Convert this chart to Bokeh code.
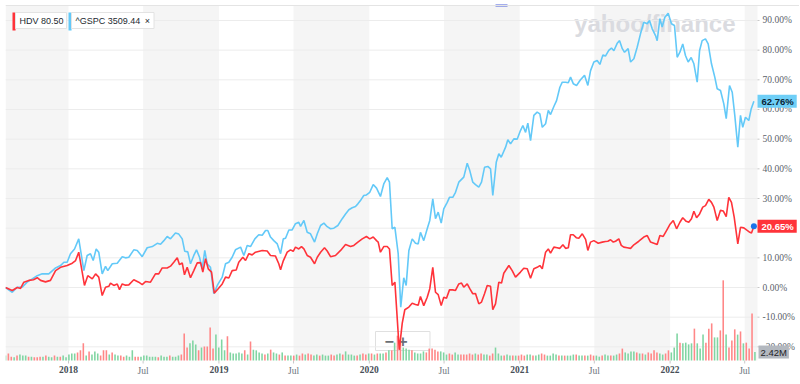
from bokeh.plotting import figure
from bokeh.models import (Range1d, BoxAnnotation, Label, LabelSet, ColumnDataSource, Span)
from bokeh.embed import file_html
from bokeh.resources import INLINE

# ---------------- data (decimal years, % change) ----------------
spx_t = [2017.581, 2017.626, 2017.659, 2017.692, 2017.725, 2017.759, 2017.792, 2017.825, 2017.869, 2017.914,
         2017.947, 2017.969, 2017.991, 2018.013, 2018.040, 2018.068, 2018.102, 2018.124, 2018.146, 2018.164,
         2018.184, 2018.201, 2018.224, 2018.246, 2018.261, 2018.291, 2018.324, 2018.357, 2018.379, 2018.401,
         2018.434, 2018.457, 2018.490, 2018.523, 2018.557, 2018.590, 2018.612, 2018.634, 2018.656, 2018.678,
         2018.711, 2018.733, 2018.756, 2018.773, 2018.793, 2018.811, 2018.833, 2018.851, 2018.871, 2018.889,
         2018.906, 2018.922, 2018.944, 2018.966, 2018.989, 2019.022, 2019.044, 2019.066, 2019.088, 2019.110,
         2019.144, 2019.166, 2019.188, 2019.210, 2019.239, 2019.265, 2019.288, 2019.310, 2019.325, 2019.343,
         2019.365, 2019.388, 2019.410, 2019.428, 2019.443, 2019.465, 2019.487, 2019.509, 2019.531, 2019.543,
         2019.565, 2019.587, 2019.609, 2019.636, 2019.654, 2019.676, 2019.698, 2019.720, 2019.742, 2019.764,
         2019.791, 2019.820, 2019.842, 2019.864, 2019.886, 2019.908, 2019.924, 2019.941, 2019.963, 2019.981,
         2020.003, 2020.026, 2020.048, 2020.074, 2020.096, 2020.119, 2020.134, 2020.152, 2020.170, 2020.192,
         2020.209, 2020.229, 2020.245, 2020.263, 2020.285, 2020.307, 2020.325, 2020.340, 2020.362, 2020.385,
         2020.402, 2020.422, 2020.440, 2020.458, 2020.478, 2020.495, 2020.518, 2020.533, 2020.555, 2020.573,
         2020.595, 2020.628, 2020.651, 2020.668, 2020.688, 2020.706, 2020.728, 2020.746, 2020.766, 2020.788,
         2020.806, 2020.821, 2020.844, 2020.861, 2020.877, 2020.906, 2020.921, 2020.939, 2020.961, 2020.983,
         2021.005, 2021.021, 2021.039, 2021.054, 2021.072, 2021.094, 2021.116, 2021.134, 2021.150, 2021.172,
         2021.190, 2021.205, 2021.227, 2021.245, 2021.267, 2021.283, 2021.305, 2021.323, 2021.338, 2021.356,
         2021.378, 2021.404, 2021.431, 2021.453, 2021.471, 2021.493, 2021.515, 2021.533, 2021.553, 2021.570,
         2021.592, 2021.610, 2021.626, 2021.648, 2021.664, 2021.682, 2021.697, 2021.721, 2021.737, 2021.759,
         2021.781, 2021.803, 2021.825, 2021.848, 2021.863, 2021.881, 2021.903, 2021.914, 2021.932, 2021.947,
         2021.965, 2021.987, 2022.009, 2022.029, 2022.047, 2022.065, 2022.084, 2022.102, 2022.120, 2022.140,
         2022.158, 2022.180, 2022.196, 2022.213, 2022.235, 2022.253, 2022.275, 2022.297, 2022.313, 2022.335,
         2022.357, 2022.373, 2022.395, 2022.413, 2022.430, 2022.450, 2022.468, 2022.483, 2022.501, 2022.523,
         2022.539, 2022.557]
spx_pct = [0.0, -1.6, 0.1, 0.1, 1.8, 2.9, 4.0, 4.6, 4.6, 6.6,
           7.4, 8.5, 8.5, 11.4, 13.0, 16.4, 5.7, 10.8, 11.4, 9.1,
           13.0, 11.9, 4.6, 7.1, 5.7, 8.0, 8.2, 10.4, 10.0, 10.2,
           12.7, 12.5, 10.4, 13.4, 13.8, 14.9, 14.6, 15.8, 17.2, 16.4,
           18.4, 18.0, 16.4, 12.2, 12.0, 8.0, 10.8, 12.7, 10.2, 6.3,
           12.5, 8.0, 6.8, -2.1, 0.7, 3.5, 8.0, 8.5, 10.2, 12.7,
           13.6, 10.8, 14.2, 13.8, 16.4, 17.8, 17.6, 19.2, 19.2, 17.0,
           15.8, 14.7, 11.4, 16.4, 16.6, 19.4, 19.4, 21.5, 22.0, 20.6,
           22.6, 18.6, 18.1, 15.3, 18.1, 20.9, 21.7, 20.5, 19.8, 20.0,
           20.9, 23.2, 24.8, 26.2, 26.9, 27.3, 28.2, 29.3, 31.0, 31.2,
           32.1, 34.7, 33.5, 30.7, 34.9, 37.0, 35.5, 19.8, 20.3, 11.4,
           -6.6, 3.3, 0.7, 12.5, 16.4, 14.9, 14.7, 18.6, 15.8, 19.8,
           22.6, 29.9, 23.2, 25.4, 21.7, 26.5, 28.7, 30.4, 30.4, 32.1,
           35.5, 37.2, 41.9, 39.4, 35.5, 34.7, 33.8, 35.5, 40.5, 40.8,
           40.0, 31.0, 42.2, 45.1, 43.9, 47.3, 49.8, 48.4, 50.1, 50.0,
           52.9, 54.6, 52.3, 55.4, 49.5, 58.0, 59.1, 58.5, 54.0, 55.2,
           59.7, 58.3, 61.0, 63.0, 67.5, 69.2, 69.2, 69.0, 70.9, 68.7,
           68.1, 70.0, 71.5, 68.1, 73.1, 76.0, 76.5, 75.2, 78.4, 78.0,
           79.9, 80.7, 79.8, 82.3, 83.2, 80.5, 79.3, 80.5, 76.0, 77.1,
           81.0, 85.5, 89.4, 88.9, 90.0, 87.2, 84.9, 83.2, 90.6, 87.8,
           91.1, 92.4, 88.9, 88.3, 77.6, 79.3, 82.1, 78.2, 76.0, 77.5,
           75.4, 69.2, 79.9, 83.2, 83.8, 82.1, 75.4, 70.9, 67.0, 66.4,
           61.9, 56.9, 68.1, 65.8, 58.0, 47.3, 58.0, 54.0, 57.4, 56.3,
           60.2, 62.76]

hdv_t = [2017.581, 2017.626, 2017.659, 2017.681, 2017.703, 2017.736, 2017.767, 2017.792, 2017.814, 2017.847,
         2017.880, 2017.914, 2017.947, 2017.991, 2018.025, 2018.047, 2018.068, 2018.091, 2018.106, 2018.128,
         2018.158, 2018.180, 2018.201, 2018.224, 2018.246, 2018.268, 2018.279, 2018.301, 2018.324, 2018.339,
         2018.357, 2018.379, 2018.401, 2018.434, 2018.467, 2018.490, 2018.512, 2018.545, 2018.578, 2018.600,
         2018.623, 2018.656, 2018.678, 2018.700, 2018.723, 2018.738, 2018.756, 2018.771, 2018.789, 2018.811,
         2018.833, 2018.856, 2018.878, 2018.893, 2018.911, 2018.929, 2018.951, 2018.969, 2018.995, 2019.022,
         2019.044, 2019.066, 2019.088, 2019.115, 2019.132, 2019.159, 2019.177, 2019.199, 2019.221, 2019.243,
         2019.288, 2019.321, 2019.343, 2019.376, 2019.398, 2019.410, 2019.428, 2019.454, 2019.476, 2019.494,
         2019.509, 2019.531, 2019.549, 2019.565, 2019.587, 2019.609, 2019.636, 2019.654, 2019.676, 2019.702,
         2019.720, 2019.742, 2019.775, 2019.809, 2019.842, 2019.875, 2019.897, 2019.924, 2019.953, 2019.981,
         2020.003, 2020.026, 2020.048, 2020.059, 2020.074, 2020.096, 2020.119, 2020.134, 2020.152, 2020.170,
         2020.199, 2020.219, 2020.236, 2020.263, 2020.285, 2020.307, 2020.325, 2020.340, 2020.362, 2020.385,
         2020.402, 2020.422, 2020.440, 2020.458, 2020.478, 2020.495, 2020.513, 2020.533, 2020.555, 2020.573,
         2020.595, 2020.613, 2020.628, 2020.651, 2020.668, 2020.688, 2020.706, 2020.728, 2020.746, 2020.766,
         2020.784, 2020.806, 2020.821, 2020.839, 2020.861, 2020.879, 2020.894, 2020.928, 2020.950, 2020.972,
         2021.005, 2021.027, 2021.050, 2021.072, 2021.094, 2021.116, 2021.134, 2021.150, 2021.172, 2021.190,
         2021.205, 2021.227, 2021.249, 2021.267, 2021.287, 2021.305, 2021.323, 2021.338, 2021.356, 2021.376,
         2021.393, 2021.416, 2021.438, 2021.453, 2021.471, 2021.493, 2021.522, 2021.549, 2021.570, 2021.586,
         2021.604, 2021.622, 2021.637, 2021.659, 2021.675, 2021.692, 2021.715, 2021.737, 2021.759, 2021.792,
         2021.825, 2021.848, 2021.870, 2021.892, 2021.914, 2021.932, 2021.954, 2021.976, 2021.998, 2022.021,
         2022.043, 2022.065, 2022.084, 2022.107, 2022.124, 2022.142, 2022.158, 2022.176, 2022.196, 2022.217,
         2022.235, 2022.257, 2022.275, 2022.291, 2022.313, 2022.335, 2022.353, 2022.373, 2022.390, 2022.408,
         2022.426, 2022.450, 2022.468, 2022.490, 2022.508, 2022.530, 2022.541, 2022.557]
hdv_pct = [0.0, -1.0, 0.0, -0.3, 1.8, 2.4, 2.6, 3.3, 2.4, 1.9,
           2.4, 5.7, 6.8, 7.4, 8.2, 9.1, 11.9, 5.2, 0.7, 4.0,
           2.9, 4.6, 3.5, -2.7, 0.1, 0.4, 1.5, 0.7, 1.2, -0.7,
           1.2, 0.8, 0.9, 2.6, 1.8, 1.0, 2.0, 1.8, 4.6, 4.6,
           6.6, 6.6, 7.2, 8.5, 10.0, 7.7, 8.3, 4.3, 6.8, 3.3,
           5.7, 8.3, 8.4, 5.2, 9.7, 6.3, 5.2, -1.9, -0.4, 1.2,
           3.5, 3.2, 5.7, 5.9, 8.5, 10.2, 9.1, 11.4, 11.0, 11.9,
           12.5, 12.3, 10.8, 10.6, 8.0, 6.0, 9.0, 11.9, 12.7, 12.2,
           13.6, 13.0, 13.8, 13.0, 10.8, 10.2, 8.0, 10.2, 11.9, 13.4,
           12.3, 10.4, 10.8, 12.5, 14.5, 13.8, 14.2, 15.3, 16.4, 17.2,
           16.4, 17.0, 15.8, 15.3, 11.9, 13.8, 13.8, 13.0, 0.7, 1.8,
           -21.0, -12.0, -7.5, -6.6, -5.3, -5.7, -6.0, -3.0, -6.1, -3.3,
           -0.4, 6.8, -1.6, -2.4, -6.1, -3.3, -3.6, -0.8, -0.8, -1.0,
           1.2, 1.5, 0.1, 1.2, -0.4, -2.1, -2.0, -5.5, -4.9, -2.1,
           0.7, 0.4, -7.5, -5.5, 1.8, 1.5, 4.8, 7.4, 5.7, 3.5,
           5.2, 6.5, 6.3, 3.1, 6.3, 6.8, 7.4, 6.3, 11.9, 13.0,
           11.6, 13.6, 13.4, 13.2, 14.4, 13.2, 13.4, 17.8, 17.8, 16.8,
           16.6, 18.1, 16.2, 12.5, 15.3, 15.8, 14.9, 15.3, 15.5, 15.6,
           16.1, 15.3, 15.6, 16.4, 14.2, 13.6, 13.4, 13.2, 14.4, 15.6,
           17.0, 17.5, 15.3, 14.9, 14.5, 17.5, 17.2, 19.2, 21.2, 22.6,
           19.8, 22.0, 23.5, 22.3, 22.0, 23.2, 25.7, 23.5, 24.8, 27.1,
           27.6, 29.7, 28.7, 27.1, 22.6, 26.0, 25.8, 23.9, 30.4, 28.7,
           23.7, 14.7, 20.3, 20.1, 19.4, 18.6, 18.4, 20.65]

# weekly volume (millions), first week starting 2017-07-31
vol_first_week = 2017.581
vol_m = [1.4, 2.0, 1.1, 0.9, 1.4, 1.7, 1.4, 1.4, 1.1, 1.1,
         0.9, 0.9, 1.1, 1.1, 1.4, 1.1, 0.9, 1.4, 1.1, 1.1,
         1.4, 0.9, 1.7, 2.0, 2.0, 2.3, 2.9, 4.9, 1.4, 2.6,
         1.7, 2.6, 2.0, 1.4, 2.9, 2.9, 1.7, 2.3, 1.7, 1.4,
         1.4, 1.1, 1.4, 1.1, 2.9, 1.1, 1.1, 1.1, 1.4, 1.4,
         1.1, 1.1, 1.1, 0.9, 1.4, 1.1, 1.1, 1.4, 1.1, 1.1,
         1.4, 1.7, 7.7, 3.7, 4.9, 5.7, 4.6, 2.9, 3.7, 4.0,
         4.0, 9.4, 3.4, 7.4, 3.7, 6.0, 2.9, 6.9, 2.3, 2.0,
         2.0, 2.3, 2.0, 2.9, 1.7, 5.4, 3.1, 2.9, 2.3, 2.0,
         1.7, 2.0, 3.1, 2.3, 2.0, 1.7, 2.3, 1.4, 1.4, 1.4,
         1.4, 1.7, 1.4, 2.0, 1.7, 2.0, 1.7, 1.4, 1.7, 1.4,
         1.7, 1.4, 1.4, 1.7, 1.4, 1.7, 2.0, 1.7, 2.6, 1.7,
         1.7, 1.4, 1.4, 1.7, 2.0, 1.7, 2.0, 2.0, 1.7, 2.0,
         2.0, 2.0, 2.3, 2.9, 2.9, 5.1, 7.1, 5.7, 3.7, 3.4,
         3.1, 2.9, 2.3, 2.0, 2.0, 2.6, 2.3, 3.4, 3.4, 3.1,
         2.6, 2.6, 2.3, 1.7, 2.0, 1.7, 2.3, 1.7, 1.7, 1.7,
         1.7, 2.0, 1.7, 2.0, 1.7, 2.0, 1.7, 1.7, 1.4, 2.0,
         3.7, 2.0, 1.4, 1.4, 1.7, 1.4, 1.4, 1.4, 1.4, 1.7,
         1.4, 1.7, 1.7, 1.4, 1.4, 1.7, 2.0, 1.7, 1.4, 1.4,
         2.0, 1.7, 1.4, 1.4, 1.4, 1.4, 1.4, 1.7, 1.7, 1.4,
         1.4, 1.4, 1.4, 1.7, 1.4, 1.4, 1.1, 1.4, 1.7, 1.4,
         1.4, 1.4, 1.7, 2.0, 3.4, 2.3, 2.0, 2.6, 2.6, 2.3,
         2.0, 2.0, 1.7, 2.3, 2.0, 2.9, 2.3, 2.0, 1.7, 2.0,
         2.9, 2.3, 3.7, 7.7, 5.1, 4.9, 5.1, 4.6, 4.9, 9.1,
         4.9, 3.4, 7.4, 5.1, 9.1, 10.6, 6.6, 6.6, 8.6, 22.9,
         7.4, 3.7, 5.7, 8.9, 7.4, 8.3, 4.9, 5.1, 3.4, 13.4, 2.42]
vol_dir = ("grrgrgggrg" "rrrgrggrgr" "gggggrrrgr" "gggrrrgrgg" "rrgggrrggg"
           "gggrgggrgg" "grrrgggrgr" "rrrggggrgg" "gggrgrgggg" "rgrggrgrgg"
           "rgrrgrrggr" "gggrrggrgg" "ggrgrrgrgr" "ggrgrgrrgg" "grggggrrrr"
           "rgggrrggrr" "rrrgrrggrr" "gggrggrgrr" "rggrggrrgg" "ggrgrgggrg"
           "grgrrggrgg" "rggrrggggr" "grgrrrrggr" "rgggrggggr" "gggrrrggrr"
           "grrrgrgrrrg")

year_ticks = [2018, 2019, 2020, 2021, 2022]
year_labels = ["2018", "2019", "2020", "2021", "2022"]
jul_ticks = [2018.496, 2019.496, 2020.497, 2021.496, 2022.496]
jul_labels = ["Jul", "Jul", "Jul", "Jul", "Jul"]
band_starts = [2017.581, 2018.496, 2019.496, 2020.497, 2021.496, 2022.496]
band_ends = [2018.0, 2019.0, 2020.0, 2021.0, 2022.0, 2022.581]
pct_ticks = [-20, -10, 0, 10, 20, 30, 40, 50, 60, 70, 80, 90]
pct_labels = [f"{v:.2f}%" for v in pct_ticks]
event_dates = [2020.879]
hdv_name, hdv_price = "HDV", "80.50"
spx_name, spx_price = "^GSPC", "3509.44"
last_volume_text = "2.42M"

# ---------------- layout geometry (px) ----------------
W, H = 799, 383
LEFT_PAD = 5
TOP_GUTTER = 5
PLOT_W, PLOT_H = 752, 355          # chart area
RIGHT_GUTTER = W - LEFT_PAD - PLOT_W
BOTTOM_GUTTER = H - TOP_GUTTER - PLOT_H

x_start, x_data_end = 2017.581, 2022.581
y_min, y_max = -24.6, 95.05
vol_top = 101.4
x_span, y_span = x_data_end - x_start, y_max - y_min
dx = lambda px: px * x_span / PLOT_W
dy = lambda px: px * y_span / PLOT_H

RED = "#ff333a"
BLUE = "#63c9f8"
FONT = "Liberation Sans"

p = figure(width=W, height=H,
           x_range=Range1d(x_start, x_data_end + dx(RIGHT_GUTTER)),
           y_range=Range1d(y_min - dy(BOTTOM_GUTTER), y_max + dy(TOP_GUTTER)),
           x_axis_location=None, y_axis_location=None,
           output_backend="svg", toolbar_location=None,
           min_border_left=LEFT_PAD, min_border_top=0, min_border_bottom=0, min_border_right=0,
           outline_line_color=None, background_fill_color="white", border_fill_color="white")
p.grid.visible = False
p.extra_y_ranges = {"vol": Range1d(-vol_top * BOTTOM_GUTTER / PLOT_H,
                                   vol_top + vol_top * TOP_GUTTER / PLOT_H)}

# half-year shading bands
for a, b in zip(band_starts, band_ends):
    p.add_layout(BoxAnnotation(left=a, right=b, bottom=y_min, top=y_max, fill_color="#f5f5f5",
                               fill_alpha=1.0, line_color=None, level="underlay"))

# watermark
p.add_layout(Label(x=x_data_end, y=y_max, x_offset=-22, y_offset=-4, text="yahoo/finance",
                   text_align="right", text_baseline="top", text_font=FONT,
                   text_font_style="bold", text_font_size="24px", text_color="#dadbe0",
                   level="underlay"))

# horizontal gridlines + right tick marks + labels
n = len(pct_ticks)
p.segment(x0=[x_start] * n, x1=[x_data_end] * n, y0=pct_ticks, y1=pct_ticks,
          line_color="#ececec", line_width=1)
p.segment(x0=[x_data_end] * n, x1=[x_data_end + dx(2)] * n, y0=pct_ticks, y1=pct_ticks,
          line_color="#c8c8c8", line_width=1)
p.add_layout(LabelSet(x="x", y="y", text="t", x_offset=5,
                      source=ColumnDataSource(dict(x=[x_data_end] * n, y=pct_ticks, t=pct_labels)),
                      text_align="left", text_baseline="middle", text_font=FONT,
                      text_font_size="9.5px", text_color="#5b636a"))
p.add_layout(Span(location=y_max, dimension="width", line_color="#e4e4e4", line_width=1))

# x ticks + labels
all_ticks = year_ticks + jul_ticks
p.segment(x0=all_ticks, x1=all_ticks, y0=[y_min] * len(all_ticks),
          y1=[y_min - dy(3)] * len(all_ticks), line_color="#c8c8c8", line_width=1)
p.add_layout(LabelSet(x="x", y="y", text="t", y_offset=-5,
                      source=ColumnDataSource(dict(x=year_ticks, y=[y_min] * len(year_ticks), t=year_labels)),
                      text_align="center", text_baseline="top", text_font=FONT,
                      text_font_style="bold", text_font_size="9.5px", text_color="#464e56"))
p.add_layout(LabelSet(x="x", y="y", text="t", y_offset=-5,
                      source=ColumnDataSource(dict(x=jul_ticks, y=[y_min] * len(jul_ticks), t=jul_labels)),
                      text_align="center", text_baseline="top", text_font=FONT,
                      text_font_size="9.5px", text_color="#6b737c"))

# volume
vol_t = [vol_first_week + i * 7 / 365.25 for i in range(len(vol_m))]
vol_col = ["#ff8787" if c == "r" else "#80d5a2" for c in vol_dir]
p.vbar(x=vol_t, top=vol_m, bottom=0, width=0.0105, y_range_name="vol",
       fill_color=vol_col, line_color=None)

# zoom buttons (drawn under the lines, semi-transparent)
p.add_layout(Label(x=x_start, y=y_min, x_offset=370, y_offset=10, text="\u2212    +",
                   text_font=FONT, text_font_style="bold", text_font_size="16px", text_color="#6b6f75",
                   text_baseline="bottom", background_fill_color="white", background_fill_alpha=0.6,
                   border_line_color="#e0e0e0", padding=dict(left=9, right=9, top=1, bottom=1),
                   level="underlay"))

# lines
p.line(spx_t, spx_pct, line_color=BLUE, line_width=1.6)
p.line(hdv_t, hdv_pct, line_color=RED, line_width=1.6)
p.scatter([hdv_t[-1]], [hdv_pct[-1]], size=6, fill_color="#1a73e8", line_color=None)

# event marker on the top edge
p.rect(x=event_dates, y=[y_max] * len(event_dates), width=12, height=2,
       width_units="screen", height_units="screen", fill_color="#4b5fdc", line_color=None)

# right-side value labels
p.add_layout(Label(x=x_data_end, y=spx_pct[-1], text=f"{spx_pct[-1]:.2f}%",
                   text_align="left", text_baseline="middle", text_font=FONT,
                   text_font_style="bold", text_font_size="9.5px", text_color="#0b2536",
                   background_fill_color="#6fcff7",
                   padding=dict(left=4, right=3, top=1, bottom=1)))
p.add_layout(Label(x=x_data_end, y=hdv_pct[-1], text=f"{hdv_pct[-1]:.2f}%",
                   text_align="left", text_baseline="middle", text_font=FONT,
                   text_font_style="bold", text_font_size="9.5px", text_color="white",
                   background_fill_color=RED,
                   padding=dict(left=4, right=3, top=1, bottom=1)))
p.add_layout(Label(x=x_data_end, y=vol_m[-1], y_range_name="vol", x_offset=1, text=last_volume_text,
                   text_align="left", text_baseline="middle", text_font=FONT,
                   text_font_size="9.5px", text_color="#1f2327",
                   background_fill_color="#b3b8bf", padding=dict(left=2, right=2, top=1, bottom=1)))

# legend chips
p.add_layout(Label(x=x_start, y=y_max, x_offset=7, y_offset=-7, text=" ", text_font=FONT,
                   text_font_size="11px", text_baseline="top", background_fill_color=RED,
                   padding=dict(left=0, right=0, top=3, bottom=3)))
p.add_layout(Label(x=x_start, y=y_max, x_offset=10, y_offset=-7, text=f"{hdv_name} {hdv_price}",
                   text_font=FONT, text_font_size="9px", text_color="#232a31", text_baseline="top",
                   background_fill_color="white", border_line_color="#e3e3e3",
                   padding=dict(left=4, right=3, top=3, bottom=3)))
p.add_layout(Label(x=x_start, y=y_max, x_offset=63, y_offset=-7, text=" ", text_font=FONT,
                   text_font_size="11px", text_baseline="top", background_fill_color=BLUE,
                   padding=dict(left=0, right=0, top=3, bottom=3)))
p.add_layout(Label(x=x_start, y=y_max, x_offset=66, y_offset=-7, text=f"{spx_name} {spx_price}\u2002\u00d7",
                   text_font=FONT, text_font_size="9px", text_color="#232a31", text_baseline="top",
                   background_fill_color="white", border_line_color="#e3e3e3",
                   padding=dict(left=4, right=4, top=3, bottom=3)))

open("out.html", "w").write(file_html(p, INLINE))
